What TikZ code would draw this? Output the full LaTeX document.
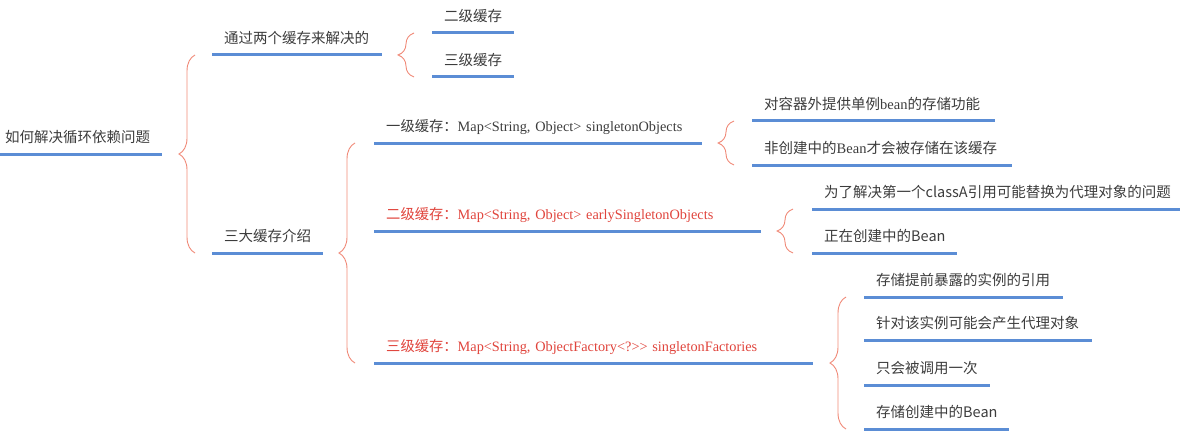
\documentclass[tikz,border=0pt]{standalone}
\usepackage{fontspec}
\setmainfont{Liberation Serif}
\newfontfamily\cjk{Noto Sans CJK SC}
\usetikzlibrary{calc,decorations.pathreplacing}
\definecolor{inkgray}{HTML}{3C3C3C}
\definecolor{mapred}{HTML}{E0443C}
\definecolor{lineblue}{HTML}{5B8DD5}
\definecolor{bracered}{HTML}{F08A78}
\tikzset{
  topic/.style={anchor=south west, inner xsep=12pt, inner ysep=8pt, text height=12pt,
    text depth=3pt, align=left, text=inkgray, font=\cjk\fontsize{14.5}{17}\selectfont},
  maptopic/.style={topic, font=\fontsize{14.3}{17}\selectfont},
  uline/.style={draw=lineblue, line width=3pt},
  curly/.style={draw=bracered, line width=0.9pt, decorate, decoration={brace, amplitude=16pt}}
}
\newcommand{\latword}[1]{{\rmfamily #1}}

\begin{document}
\begin{tikzpicture}[x=1pt,y=-1pt]
\useasboundingbox (0,0) rectangle (1180,433);

\node[topic, inner xsep=5pt, text width=152pt] (root) at (0,154) {如何解决循环依赖问题};

\node[topic, text width=146pt] (way) at (212,55) {通过两个缓存来解决的};
\node[topic, text width=87pt] (three) at (212,253) {三大缓存介绍};

\node[topic, text width=58pt] (way2) at (432,33) {二级缓存};
\node[topic, text width=58pt] (way3) at (432,77) {三级缓存};

\node[maptopic, text width=304pt] (lvl1) at (374,143) {\mbox{{\cjk 一级缓存：}Map<String, Object> singletonObjects}};
\node[maptopic, text=mapred, text width=363pt] (lvl2) at (374,231) {\mbox{{\cjk 二级缓存：}Map<String, Object> earlySingletonObjects}};
\node[maptopic, text=mapred, text width=415pt] (lvl3) at (374,363) {\mbox{{\cjk 三级缓存：}Map<String, ObjectFactory<?>{}> singletonFactories}};

\node[topic, text width=219pt] (one1) at (752,121) {对容器外提供单例\latword{bean}的存储功能};
\node[topic, text width=236pt] (one2) at (752,165) {非创建中的\latword{Bean}才会被存储在该缓存};

\node[topic, text width=344pt] (two1) at (812,209) {为了解决第一个classA引用可能替换为代理对象的问题};
\node[topic, text width=121pt] (two2) at (812,253) {正在创建中的Bean};

\node[topic, text width=175pt] (thr1) at (864,297) {存储提前暴露的实例的引用};
\node[topic, text width=204pt] (thr2) at (864,340) {针对该实例可能会产生代理对象};
\node[topic, text width=102pt] (thr3) at (864,385) {只会被调用一次};
\node[topic, text width=121pt] (thr4) at (864,429) {存储创建中的Bean};

\foreach \n in {root,way,three,way2,way3,lvl1,lvl2,lvl3,one1,one2,two1,two2,thr1,thr2,thr3,thr4}
  \draw[uline] (\n.south west) -- (\n.south east);

\draw[curly] ($(three.south west)+(-17,0)$) -- ($(way.south west)+(-17,0)$);
\draw[curly] ($(way3.south west)+(-18,0)$) -- ($(way2.south west)+(-18,0)$);
\draw[curly] ($(lvl3.south west)+(-19,0)$) -- ($(lvl1.south west)+(-19,0)$);
\draw[curly] ($(one2.south west)+(-18,0)$) -- ($(one1.south west)+(-18,0)$);
\draw[curly] ($(two2.south west)+(-19,0)$) -- ($(two1.south west)+(-19,0)$);
\draw[curly] ($(thr4.south west)+(-18,0)$) -- ($(thr1.south west)+(-18,0)$);
\end{tikzpicture}
\end{document}
